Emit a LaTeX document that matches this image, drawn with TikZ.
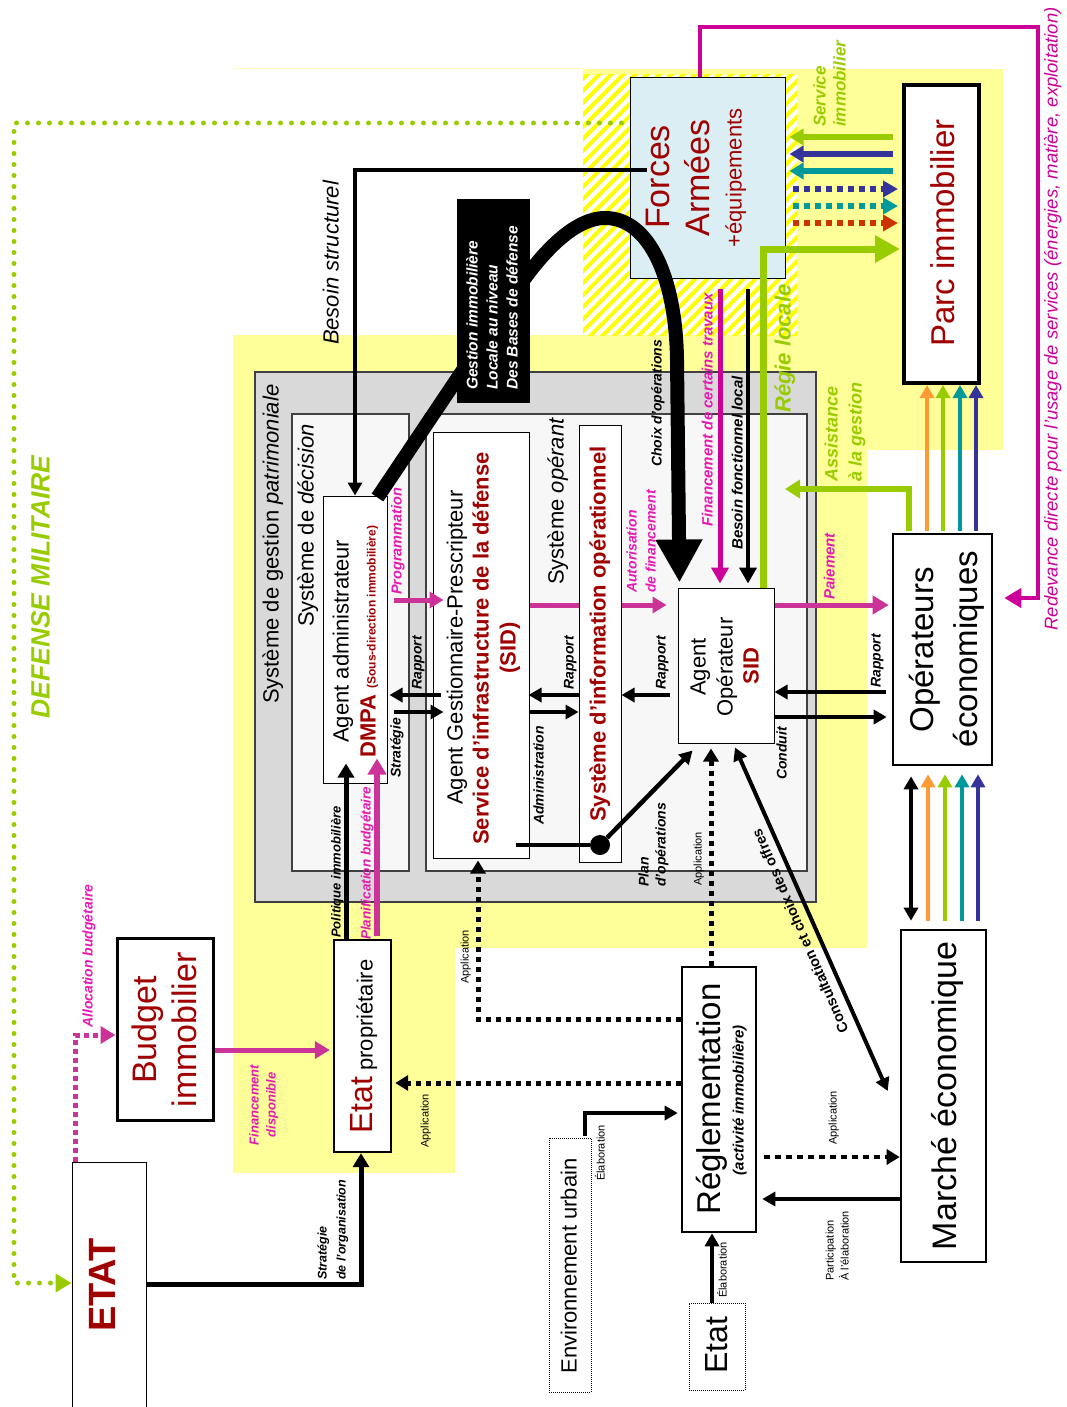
\documentclass[tikz,border=0pt]{standalone}
\usepackage{fontspec}
\setmainfont{Liberation Sans}
\usetikzlibrary{arrows.meta,patterns.meta,fit,calc}
\definecolor{yel}{HTML}{FFFF99}
\definecolor{hatchy}{HTML}{FFFF00}
\definecolor{dred}{HTML}{A00000}
\definecolor{mag}{HTML}{CC0099}
\definecolor{pinkA}{HTML}{CC3399}
\definecolor{labmag}{HTML}{E619B3}
\definecolor{grn}{HTML}{99CC00}
\definecolor{navyA}{HTML}{333399}
\definecolor{tealA}{HTML}{009999}
\definecolor{orng}{HTML}{FF9933}
\definecolor{ored}{HTML}{CC3300}
\definecolor{cyanl}{HTML}{DAEEF3}
\definecolor{grayA}{HTML}{D9D9D9}
\definecolor{grayB}{HTML}{F7F7F7}
\newcommand\fsz[1]{\fontsize{#1}{#1}\selectfont}
\tikzset{
  bx/.style={draw, inner sep=0pt, line width=1pt, fill=white},
  tbx/.style={draw, inner sep=0pt, line width=2.6pt, fill=white},
  sysbox/.style={draw=black!75, line width=1.2pt, inner sep=0pt},
  rtc/.style={rotate=90, inner sep=0pt, anchor=mid},
  rtw/.style={rotate=90, inner sep=0pt, anchor=mid west},
  bi/.style={font=\bfseries\itshape\fsz{14}},
  sm/.style={font=\fsz{11}},
  arr/.style={line width=4pt, -{Triangle[length=13pt,width=14pt]}},
  darr/.style={line width=4pt, {Triangle[length=13pt,width=14pt]}-{Triangle[length=13pt,width=14pt]}},
  appl/.style={line width=5pt, dash pattern=on 5pt off 5pt, -{Triangle[length=13pt,width=15pt]}},
}
\begin{document}
\begin{tikzpicture}[x=1pt,y=-1pt]
\useasboundingbox (0,0) rectangle (1066,1407);
\clip (0,0) rectangle (1066,1407);
% ---------- backgrounds
\draw[yel!70, line width=1pt] (233,69) -- (583,69);
\fill[yel] (583,69) rectangle (1003,450);
\fill[yel] (233,335) rectangle (867,948);
\fill[yel] (233,948) rectangle (455,1173);
\fill[white] (583,75) rectangle (797,335);
\fill[pattern={Lines[angle=45,distance=8.5pt,line width=4pt]}, pattern color=hatchy] (583,75) rectangle (797,335);
% ---------- system boxes
\node[sysbox, fill=grayA, fit={(255,372) (816,902)}] (sgp) {};
\node[sysbox, fill=grayB, fit={(292,414) (409,871)}] (sdd) {};
\node[sysbox, fill=grayB, fit={(426,414) (807,871)}] (sop) {};
% ---------- boxes
\node[bx, fill=cyanl, fit={(630,78) (785,278)}] (fa) {};
\node[bx, line width=4pt, fit={(904,85) (979,383)}] (parc) {};
\node[tbx, fit={(893,534) (992,765)}] (oe) {};
\node[bx, fit={(678,588) (774,743)}] (ao) {};
\node[bx, fit={(323,496) (387,783)}] (adm) {};
\node[bx, fit={(433,432) (529,858)}] (gest) {};
\node[bx, fit={(579,425) (621,862)}] (sio) {};
\node[tbx, fit={(682,967) (756,1232)}] (regl) {};
\node[tbx, fit={(901,930) (986,1262)}] (mar) {};
\node[bx, densely dotted, fit={(549,1138) (591,1392)}] (env) {};
\node[bx, densely dotted, fit={(689,1303) (745,1390)}] (etatB) {};
\node[tbx, line width=2.4pt, fit={(334,940) (391,1152)}] (ep) {};
\node[tbx, line width=3pt, fit={(117,938) (213,1120)}] (bud) {};
\node[bx, fit={(72,1162) (146,1440)}] (etat) {};
% ---------- connectors
% defense militaire dotted
\draw[grn, line width=5pt, line cap=round, dash pattern=on 0pt off 11pt, -{Triangle[length=16pt,width=18pt]}]
  ($(fa.west|-0,123)+(-8,0)$) -| (14,1283) -- (etat.west|-0,1283);
% redevance
\draw[mag, line width=4.5pt, -{Triangle[length=17pt,width=19pt]}]
  (fa.north -| 700,0) |- (1038,27) |- ($(oe.east|-0,598)+(11,0)$);
% besoin structurel
\draw[arr] ($(fa.west|-0,170)+(17,0)$) -| (adm.north);
% big curve
\draw[line width=14pt, -{Triangle[length=43pt,width=44pt]}]
  ($(adm.north east)+(-10,2)$) -- (520,285) .. controls (548,245) and (578,218) .. (605,218)
  .. controls (650,218) and (676,280) .. (677,360) -- ($(ao.north west)+(2,-5)$);
% forces -> agent operateur
\draw[mag, line width=5pt, -{Triangle[length=16pt,width=17pt]}] ($(fa.south -| 720,0)+(0,10)$) -- ($(ao.north -| 720,0)+(0,-4)$);
\draw[line width=4.5pt, -{Triangle[length=16pt,width=17pt]}] ($(fa.south -| 748,0)+(0,10)$) -- ($(ao.north -| 748,0)+(0,-4)$);
\draw[grn, line width=7pt, -{Triangle[length=25pt,width=26pt]}] (ao.north -| 763,0) |- ($(parc.west|-0,249)+(-2,0)$);
% service immobilier
\draw[grn, line width=6pt, -{Triangle[length=14pt,width=16pt]}] ($(parc.west|-0,137)+(-9,0)$) -- ($(fa.east|-0,137)+(4,0)$);
\draw[navyA, line width=6pt, -{Triangle[length=14pt,width=16pt]}] ($(parc.west|-0,154)+(-9,0)$) -- ($(fa.east|-0,154)+(4,0)$);
\draw[tealA, line width=6pt, -{Triangle[length=14pt,width=16pt]}] ($(parc.west|-0,171)+(-9,0)$) -- ($(fa.east|-0,171)+(4,0)$);
\draw[navyA, line width=6pt, dash pattern=on 6pt off 5pt, -{Triangle[length=15pt,width=16pt]}] ($(fa.east|-0,189)+(7,0)$) -- ($(parc.west|-0,189)+(-4,0)$);
\draw[tealA, line width=6pt, dash pattern=on 6pt off 5pt, -{Triangle[length=15pt,width=16pt]}] ($(fa.east|-0,206)+(7,0)$) -- ($(parc.west|-0,206)+(-4,0)$);
\draw[ored, line width=6pt, dash pattern=on 6pt off 5pt, -{Triangle[length=15pt,width=16pt]}] ($(fa.east|-0,223)+(7,0)$) -- ($(parc.west|-0,223)+(-4,0)$);
% operateurs -> parc
\foreach \c/\x in {orng/927, grn/943, tealA/960, navyA/976}
  \draw[\c, line width=4pt, -{Triangle[length=13pt,width=14pt]}] ($(oe.north -| \x,0)+(0,-2)$) -- (parc.south -| \x,0);
% assistance
\coordinate (assistEnd) at (785,489);
\draw[grn, line width=6pt, -{Triangle[length=15pt,width=18pt]}] ($(oe.north -| 909,0)+(0,-2)$) |- (assistEnd);
% AO <-> OE
\draw[pinkA, line width=5pt, -{Triangle[length=16pt,width=18pt]}] (ao.east|-0,605) -- ($(oe.west|-0,605)+(-3,0)$);
\draw[arr] ($(oe.west|-0,692)+(-6,0)$) -- (ao.east|-0,692);
\draw[arr] (ao.east|-0,717) -- ($(oe.west|-0,717)+(-5,0)$);
% admin <-> gest
\draw[pinkA, line width=5pt, -{Triangle[length=14pt,width=16pt]}] ($(adm.east|-0,600)+(6,0)$) -- ($(gest.west|-0,600)+(11,0)$);
\draw[arr] ($(gest.west|-0,695)+(8,0)$) -- ($(adm.east|-0,695)+(2,0)$);
\draw[arr] ($(adm.east|-0,712)+(6,0)$) -- ($(gest.west|-0,712)+(11,0)$);
% gest <-> sio <-> ao
\draw[pinkA, line width=5pt] (gest.east|-0,605) -- (sio.west|-0,605);
\draw[pinkA, line width=5pt, -{Triangle[length=14pt,width=16pt]}] (sio.east|-0,605) -- ($(ao.west|-0,605)+(-11,0)$);
\draw[arr] (sio.west|-0,695) -- ($(gest.east|-0,695)+(-1,0)$);
\draw[arr] (gest.east|-0,712) -- (sio.west|-0,712);
\draw[arr] ($(ao.west|-0,695)+(-8,0)$) -- (sio.east|-0,695);
% plan d'operations
\node[circle, fill=black, minimum size=20pt, inner sep=0pt] (dot) at (600,845) {};
\draw[line width=4.5pt] ($(gest.east|-0,845)+(-14,0)$) -- (dot);
\draw[arr, line width=4.5pt] (dot) -- ($(ao.south west)+(15,7)$);
% reglementation links
\draw[appl] (regl.north -| 711,0) -- ($(ao.south -| 711,0)+(0,5)$);
\draw[darr] ($(ao.south -| 735,0)+(0,4)$) -- ($(mar.west|-0,1091)+(-12,0)$);
\draw[appl] (regl.west|-0,1019) -| ($(gest.south -| 478,0)+(0,2)$);
\draw[appl] (regl.west|-0,1083) -- ($(ep.east|-0,1083)+(3,0)$);
\draw[appl, line width=4.5pt, dash pattern=on 6pt off 5pt] ($(regl.east|-0,1157)+(7,0)$) -- (mar.west|-0,1157);
\draw[arr] (mar.west|-0,1199) -- ($(regl.east|-0,1199)+(5,0)$);
\draw[arr] ($(env.north -| 585,0)+(0,-2)$) |- ($(regl.west|-0,1113)+(-3,0)$);
\draw[arr] (etatB.north -| 712,0) -- (regl.south -| 712,0);
% marche <-> operateurs
\draw[darr] ($(mar.north -| 911,0)+(0,-8)$) -- ($(oe.south -| 911,0)+(0,10)$);
\foreach \c/\x in {orng/928, grn/945, tealA/962, navyA/978}
  \draw[\c, line width=4pt, -{Triangle[length=13pt,width=14pt]}] ($(mar.north -| \x,0)+(0,-8)$) -- ($(oe.south -| \x,0)+(0,8)$);
% etat area
\draw[pinkA, line width=5pt, dash pattern=on 5pt off 4pt, -{Triangle[length=15pt,width=17pt]}] (etat.north -| 75,0) |- (bud.west|-0,1035);
\draw[pinkA, line width=5pt, -{Triangle[length=15pt,width=17pt]}] (bud.east|-0,1050) -- ($(ep.west|-0,1050)+(-3,0)$);
\draw[line width=5pt, -{Triangle[length=14pt,width=16pt]}] (etat.east|-0,1284) -| (ep.south -| 361,0);
\draw[line width=5pt, -{Triangle[length=14pt,width=16pt]}] (ep.north -| 346,0) -- ($(adm.south -| 346,0)+(0,-20)$);
\draw[pinkA, line width=6pt, -{Triangle[length=16pt,width=18pt]}] ($(ep.north -| 377,0)+(0,-3)$) -- ($(adm.south -| 377,0)+(0,-25)$);
% black gestion box
\node[fill=black, inner sep=0pt, fit={(457,199) (530,403)}] (gib) {};
% ---------- texts
\node[rtc, grn, font=\bfseries\itshape\fsz{26.5}] (tdm) at (47,587) {DEFENSE MILITAIRE};
\node[rtc, mag, font=\itshape\fsz{18.5}] (tred) at (1055,319) {Redevance directe pour l'usage de services (énergies, matière, exploitation)};
\node[rtw, grn, font=\bfseries\itshape\fsz{17}] (tsi1) at (823,127) {Service};
\node[rtw, grn, font=\bfseries\itshape\fsz{17}] (tsi2) at (843,127) {immobilier};
\node[rtc, dred, font=\fsz{34}] (tfa1) at (667,177) {Forces};
\node[rtc, dred, font=\fsz{34}] (tfa2) at (707,178) {Armées};
\node[rtc, dred, font=\fsz{22}] (tfa3) at (739,178) {+équipements};
\node[rtc, dred, font=\fsz{33}] (tparc) at (952,233) {Parc immobilier};
\node[rtc, font=\itshape\fsz{22}] (tbs) at (336,263) {Besoin structurel};
\node[rtw, white, font=\bfseries\itshape\fsz{15.5}] (tg1) at (475,390) {Gestion immobilière};
\node[rtw, white, font=\bfseries\itshape\fsz{15.5}] (tg2) at (495,390) {Locale au niveau};
\node[rtw, white, font=\bfseries\itshape\fsz{15.5}] (tg3) at (515,390) {Des Bases de défense};
\node[rtw, font=\fsz{22}] (tsgp) at (276,704) {Système de gestion \textit{patrimoniale}};
\node[rtw, font=\fsz{22}] (tsdd) at (311,627) {Système de \textit{décision}};
\node[rtw, font=\fsz{22}] (tsop) at (561,585) {Système \textit{opérant}};
\node[rtw, font=\fsz{22}] (tadm) at (346,743) {Agent administrateur};
\node[rtw, dred, font=\bfseries\fsz{22}] (tdmpa) at (373,758) {DMPA {\fsz{12}(Sous-direction immobilière)}};
\node[rtw, labmag, font=\bfseries\itshape\fsz{14.5}] (tprog) at (399,595) {Programmation};
\node[rtw, bi] (trap1) at (419,690) {Rapport};
\node[rtw, bi] (tstr) at (398,778) {Stratégie};
\node[rtw, font=\fsz{22}] (tgest1) at (460,805) {Agent Gestionnaire-Prescripteur};
\node[rtw, dred, font=\bfseries\fsz{22}] (tgest2) at (486,845) {Service d'infrastructure de la défense};
\node[rtc, dred, font=\bfseries\fsz{22}] (tgest3) at (513,648) {(SID)};
\node[rtw, dred, font=\bfseries\fsz{22}] (tsio) at (603,822) {Système d'information opérationnel};
\node[rtw, bi] (trap2) at (571,690) {Rapport};
\node[rtw, bi] (tadmin) at (541,825) {Administration};
\node[rtw, bi] (trap3) at (663,690) {Rapport};
\node[rtw, labmag, bi] (taut1) at (634,593) {Autorisation};
\node[rtw, labmag, bi] (taut2) at (653,593) {de financement};
\node[rtw, bi] (tchoix) at (659,467) {Choix d'opérations};
\node[rtw, labmag, font=\bfseries\itshape\fsz{15}] (tfin) at (710,527) {Financement de certains travaux};
\node[rtw, font=\bfseries\itshape\fsz{15}] (tbfl) at (740,550) {Besoin fonctionnel local};
\node[rtw, grn, font=\bfseries\itshape\fsz{22}] (tregie) at (788,413) {Régie locale};
\node[rtw, grn, font=\bfseries\itshape\fsz{18}] (tass1) at (835,482) {Assistance};
\node[rtw, grn, font=\bfseries\itshape\fsz{18}] (tass2) at (859,482) {à la gestion};
\node[rtw, labmag, font=\bfseries\itshape\fsz{15}] (tpai) at (832,600) {Paiement};
\node[rtw, bi] (trap4) at (878,688) {Rapport};
\node[rtw, bi] (tcond) at (784,780) {Conduit};
\node[rtc, font=\fsz{22}] (tao1) at (703,667) {Agent};
\node[rtc, font=\fsz{22}] (tao2) at (730,667) {Opérateur};
\node[rtc, dred, font=\bfseries\fsz{22}] (tao3) at (756,666) {SID};
\node[rtc, font=\fsz{33}] (toe1) at (931,650) {Opérateurs};
\node[rtc, font=\fsz{33}] (toe2) at (975,649) {économiques};
\node[rtw, bi] (tplan1) at (646,887) {Plan};
\node[rtw, bi] (tplan2) at (663,887) {d'opérations};
\node[rtw, sm] (tapp1) at (699,886) {Application};
\node[rotate=113.5, inner sep=0pt, font=\bfseries\fsz{14.5}] (tcons) at (800,931) {Consultation et choix des offres};
\node[rtw, sm] (tapp2) at (466,984) {Application};
\node[rtw, sm] (tapp3) at (426,1148) {Application};
\node[rtw, sm] (tapp4) at (834,1145) {Application};
\node[rtw, sm] (tpart1) at (831,1281) {Participation};
\node[rtw, sm] (tpart2) at (846,1281) {À l'élaboration};
\node[rtc, font=\fsz{33}] (tregl1) at (718,1099) {Réglementation};
\node[rtc, font=\bfseries\itshape\fsz{15}] (tregl2) at (741,1100) {(activité immobilière)};
\node[rtc, font=\fsz{34}] (tmar) at (954,1096) {Marché économique};
\node[rtc, font=\fsz{22}] (tenv) at (574,1266) {Environnement urbain};
\node[rtw, sm] (tela1) at (602,1181) {Élaboration};
\node[rtc, font=\fsz{32}] (tetatB) at (725,1345) {Etat};
\node[rtw, sm] (tela2) at (724,1298) {Élaboration};
\node[rtw, font=\fsz{22}] (tep) at (370,1134) {{\fsz{32}\color{dred}Etat} propriétaire};
\node[rtc, dred, font=\fsz{34}] (tbud1) at (154,1030) {Budget};
\node[rtc, dred, font=\fsz{34}] (tbud2) at (194,1030) {immobilier};
\node[rtc, dred, font=\bfseries\fsz{38}] (tetat) at (113,1285) {ETAT};
\node[rtw, labmag, font=\bfseries\itshape\fsz{14}] (talloc) at (90,1028) {Allocation budgétaire};
\node[rtc, labmag, font=\bfseries\itshape\fsz{13}] (tfd1) at (256,1105) {Financement};
\node[rtc, labmag, font=\bfseries\itshape\fsz{13}] (tfd2) at (273,1105) {disponible};
\node[rtw, font=\bfseries\itshape\fsz{12.5}] (tso1) at (324,1280) {Stratégie};
\node[rtw, font=\bfseries\itshape\fsz{12.5}] (tso2) at (343,1280) {de l'organisation};
\node[rtw, font=\bfseries\itshape\fsz{13}] (tpol) at (338,938) {Politique immobilière};
\node[rtw, labmag, font=\bfseries\itshape\fsz{13.5}] (tplanif) at (368,940) {Planification budgétaire};
\end{tikzpicture}
\end{document}
